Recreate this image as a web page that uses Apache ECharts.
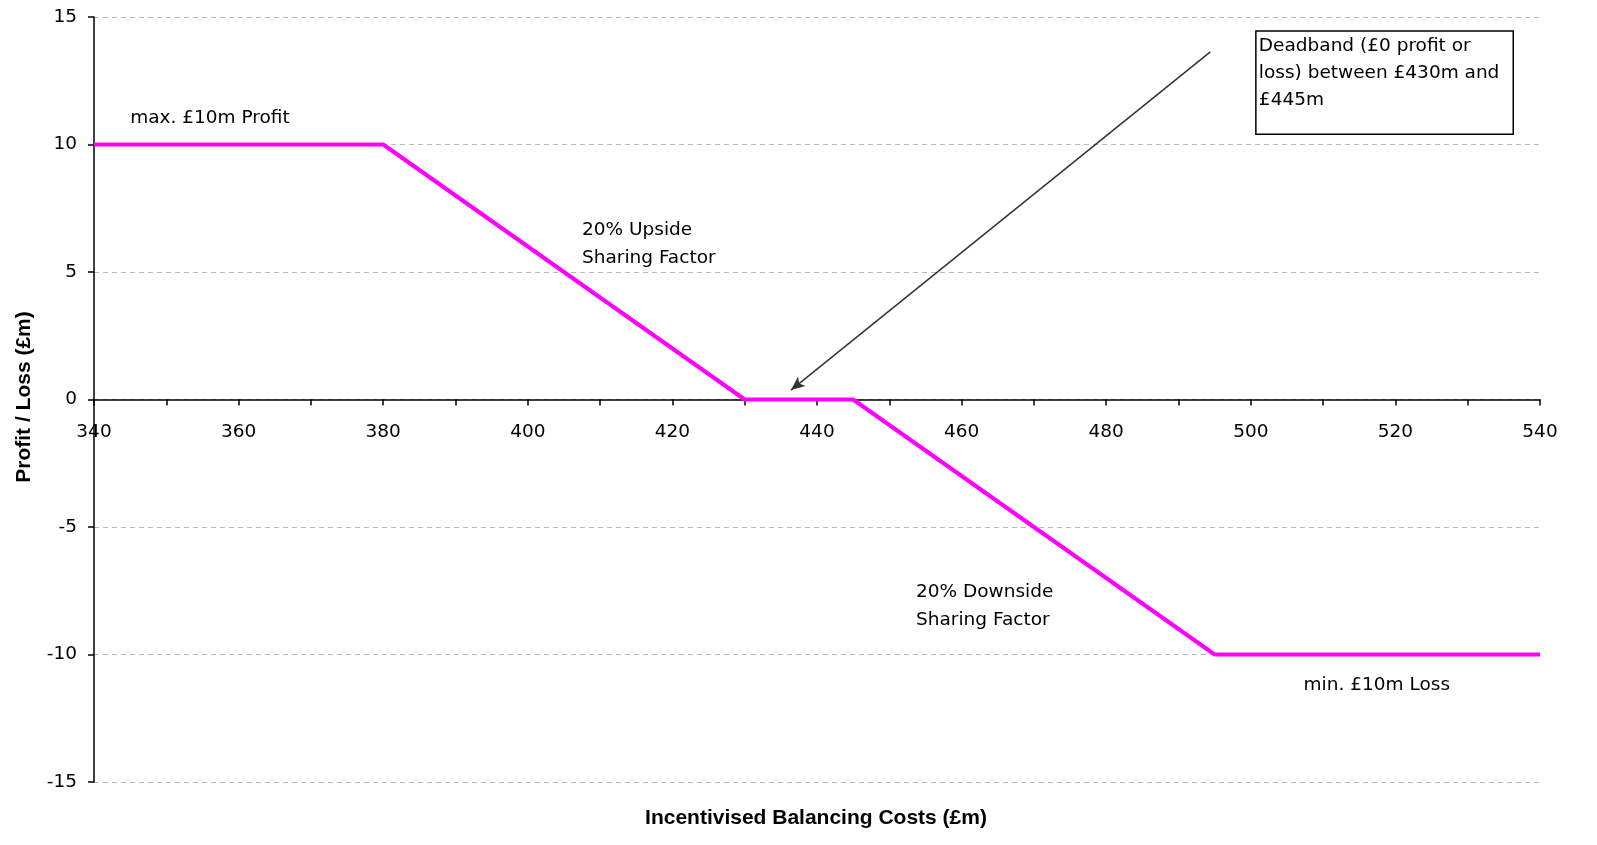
<!DOCTYPE html>
<html>
<head>
<meta charset="utf-8">
<script src="https://cdn.jsdelivr.net/npm/echarts@6/dist/echarts.min.js"></script>
<style>html,body{margin:0;padding:0;background:#fff}#c{width:1597px;height:845px}</style>
</head>
<body>
<div id="c"></div>
<script>
// Data
const costs = [340, 380, 430, 445, 495, 540];
const profit = [10, 10, 0, 0, -10, -10];
const xTicks = { min: 340, max: 540, step: 10, labelStep: 20 };
const yTicks = { min: -15, max: 15, step: 5 };
const xTitle = 'Incentivised Balancing Costs (£m)';
const yTitle = 'Profit / Loss (£m)';
const annotations = [
  { text: 'max. £10m Profit', x: 345, y: 11.04 },
  { text: '20% Upside\nSharing Factor', x: 407.5, y: 6.65 },
  { text: '20% Downside\nSharing Factor', x: 453.7, y: -7.55 },
  { text: 'min. £10m Loss', x: 507.3, y: -11.2 }
];
const boxText = 'Deadband (£0 profit or\nloss) between £430m and\n£445m';
const boxCorner = { x1: 500.7, y1: 14.45, x2: 536.3, y2: 10.4 };
const arrowFrom = [494.4, 13.63];
const arrowTo = [436.4, 0.37];

const FONT = 'DejaVu Sans';
const FS = 18.5;
const BFONT = 'Liberation Sans';
const GRID = { left: 94, right: 57, top: 17, bottom: 63 };
const H = 845;
const plotH = H - GRID.top - GRID.bottom;
const zeroOffset = -plotH * (0 - yTicks.min) / (yTicks.max - yTicks.min);

const chart = echarts.init(document.getElementById('c'));
const option = {
  animation: false,
  backgroundColor: '#fff',
  grid: Object.assign({ outerBoundsMode: 'none', containLabel: false }, GRID),
  xAxis: {
    type: 'value', min: xTicks.min, max: xTicks.max, interval: xTicks.step,
    position: 'bottom', offset: zeroOffset,
    axisLine: { onZero: false, lineStyle: { color: '#000', width: 1.5 } },
    axisTick: { inside: false, length: 6, lineStyle: { color: '#000', width: 1.5 } },
    axisLabel: {
      margin: 23, fontFamily: FONT, fontSize: FS, color: '#000',
      formatter: v => (v - xTicks.min) % xTicks.labelStep === 0 ? String(v) : ''
    },
    splitLine: { show: false }
  },
  yAxis: {
    type: 'value', min: yTicks.min, max: yTicks.max, interval: yTicks.step,
    axisLine: { show: true, lineStyle: { color: '#000', width: 1.5 } },
    axisTick: { show: true, length: 6, lineStyle: { color: '#000', width: 1.5 } },
    axisLabel: { margin: 17, fontFamily: FONT, fontSize: FS, color: '#000' },
    splitLine: { show: true, lineStyle: { color: '#b8b8b8', type: [5, 4], width: 1 } }
  },
  series: [{
    type: 'line',
    data: costs.map((c, i) => [c, profit[i]]),
    symbol: 'none',
    lineStyle: { color: '#ff00ff', width: 4 },
    z: 3,
    markLine: {
      silent: true,
      symbol: ['none', 'arrow'],
      symbolSize: [9, 14],
      label: { show: false },
      lineStyle: { color: '#333', width: 1.5, type: 'solid' },
      data: [[{ coord: arrowFrom }, { coord: arrowTo }]]
    }
  }]
};
chart.setOption(option);

const g = [];
annotations.forEach(a => {
  const p = chart.convertToPixel({ xAxisIndex: 0, yAxisIndex: 0 }, [a.x, a.y]);
  g.push({
    type: 'text', left: p[0], top: p[1] - 14,
    style: { text: a.text, fontFamily: FONT, fontSize: FS, fill: '#000', lineHeight: 28 }
  });
});
const b1 = chart.convertToPixel({ xAxisIndex: 0, yAxisIndex: 0 }, [boxCorner.x1, boxCorner.y1]);
const b2 = chart.convertToPixel({ xAxisIndex: 0, yAxisIndex: 0 }, [boxCorner.x2, boxCorner.y2]);
g.push({
  type: 'rect', shape: { x: b1[0], y: b1[1], width: b2[0] - b1[0], height: b2[1] - b1[1] },
  style: { fill: '#fff', stroke: '#000', lineWidth: 1.5 }, z: 10
});
g.push({
  type: 'text', left: b1[0] + 3, top: b1[1] + 2, z: 11,
  style: { text: boxText, fontFamily: FONT, fontSize: FS, fill: '#000', lineHeight: 27 }
});
g.push({
  type: 'text', x: 816, y: 818, z: 11,
  style: { text: xTitle, fontFamily: BFONT, fontWeight: 'bold', fontSize: 21, fill: '#000', align: 'center', verticalAlign: 'middle' }
});
g.push({
  type: 'text', x: 24, y: 397, rotation: Math.PI / 2, z: 11,
  style: { text: yTitle, fontFamily: BFONT, fontWeight: 'bold', fontSize: 21, fill: '#000', align: 'center', verticalAlign: 'middle' }
});
chart.setOption({ graphic: g });
</script>
</body>
</html>
